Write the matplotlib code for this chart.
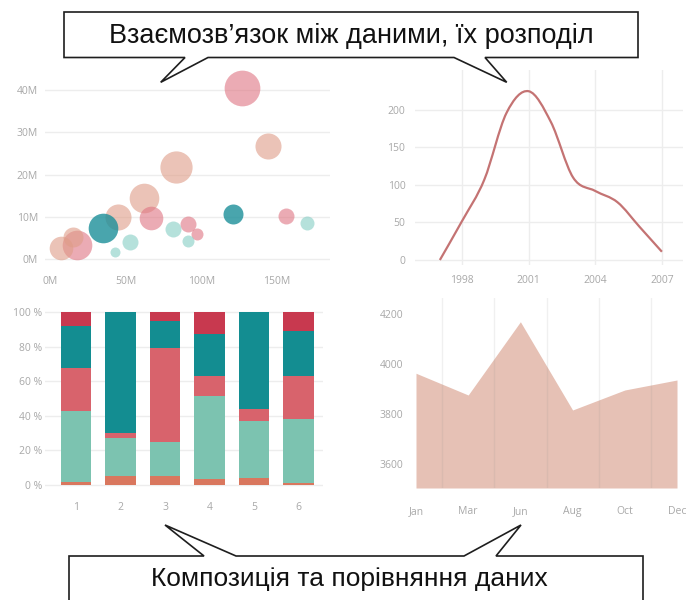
import numpy as np
import matplotlib
matplotlib.use("Agg")
import matplotlib.pyplot as plt
from matplotlib.path import Path
from matplotlib.patches import PathPatch, Polygon

# bubble chart: x, y in millions, bubble size value, colour group
bubble_x = [127, 144, 83, 62, 67, 45, 35, 121, 156, 170, 91, 97, 81, 91, 53, 43, 18, 7, 15]
bubble_y = [40.4, 26.7, 21.7, 14.4, 9.7, 9.9, 7.3, 10.6, 10.2, 8.5, 8.3, 5.9, 7.1, 4.3, 4.0, 1.7, 3.3, 2.6, 5.2]
bubble_size = [32, 17, 26, 22, 14, 17, 22, 10, 6.4, 4.9, 6.4, 3.6, 6.4, 3.6, 6.4, 2.5, 22, 14, 10]
bubble_group = ["pink", "peach", "peach", "peach", "pink", "peach", "teal", "teal", "pink", "mint",
                "pink", "pink", "mint", "mint", "mint", "mint", "pink", "peach", "peach"]

# line chart
years = [1997, 1998, 1999, 2000, 2001, 2002, 2003, 2004, 2005, 2006, 2007]
line_vals = [0, 52, 107, 196, 225, 184, 110, 92, 77, 44, 11]

# 100% stacked bars, bottom to top
bar_labels = ["1", "2", "3", "4", "5", "6"]
seg_orange = [1.5, 5, 5, 3.5, 4, 1]
seg_mint = [41, 22, 20, 48, 33, 37]
seg_pink = [25, 3, 54, 11.5, 7, 25]
seg_teal = [24.5, 70, 16, 24, 56, 26]
seg_red = [8, 0, 5, 13, 0, 11]

# area chart
months = ["Jan", "Mar", "Jun", "Aug", "Oct", "Dec"]
area_vals = [3964, 3877, 4170, 3817, 3897, 3937]

W, H = 688, 600
fig = plt.figure(figsize=(W / 100, H / 100), dpi=100)
fig.patch.set_facecolor("white")

TICK = "#a8a8a8"
GRID = "#ededed"
FONT = "Open Sans"


def px_axes(left, top, right, bottom):
    return fig.add_axes([left / W, 1 - bottom / H, (right - left) / W, (bottom - top) / H])


def clean(ax, xpad, ypad):
    for s in ax.spines.values():
        s.set_visible(False)
    ax.tick_params(length=0, labelsize=7.5, labelcolor=TICK)
    ax.tick_params(axis="x", pad=xpad)
    ax.tick_params(axis="y", pad=ypad)
    for lab in ax.get_xticklabels() + ax.get_yticklabels():
        lab.set_fontfamily(FONT)
    ax.set_facecolor("none")


# --- bubbles
colors = {"pink": "#df7482", "peach": "#df9c87", "teal": "#1b8f99", "mint": "#84cdc4"}
alphas = {"pink": 0.6, "peach": 0.6, "teal": 0.8, "mint": 0.6}
ax1 = px_axes(45, 80, 330, 265)
for v in [0, 10, 20, 30, 40]:
    ax1.axhline(v, color=GRID, lw=1, zorder=0)
for x, y, s, g in zip(bubble_x, bubble_y, bubble_size, bubble_group):
    ax1.scatter(x, y, s=s * 20.7, color=colors[g], alpha=alphas[g], lw=0, clip_on=False, zorder=2)
ax1.set_xlim(-3.3, 185)
ax1.set_ylim(-1.42, 42.4)
ax1.set_xticks([0, 50, 100, 150], ["0M", "50M", "100M", "150M"])
ax1.set_yticks([0, 10, 20, 30, 40], ["0M", "10M", "20M", "30M", "40M"])
clean(ax1, 8, 5)

# --- smooth line
ax2 = px_axes(415, 70, 683, 265)
for v in [0, 50, 100, 150, 200]:
    ax2.axhline(v, color=GRID, lw=1, zorder=0)
for yr in [1998, 2001, 2004, 2007]:
    ax2.axvline(yr, color=GRID, lw=1, zorder=0)
pts = np.column_stack([years, line_vals]).astype(float)
ext = np.vstack([pts[0], pts, pts[-1]])
verts = [pts[0]]
codes = [Path.MOVETO]
for i in range(len(pts) - 1):
    p0, p1, p2, p3 = ext[i], ext[i + 1], ext[i + 2], ext[i + 3]
    verts += [p1 + (p2 - p0) / 6, p2 - (p3 - p1) / 6, p2]
    codes += [Path.CURVE4] * 3
ax2.add_patch(PathPatch(Path(verts, codes), fill=False, edgecolor="#c47373", lw=1.6, zorder=3))
ax2.set_xlim(1995.88, 2007.95)
ax2.set_ylim(-6.67, 253.3)
ax2.set_xticks([1998, 2001, 2004, 2007], ["1998", "2001", "2004", "2007"])
ax2.set_yticks([0, 50, 100, 150, 200], ["0", "50", "100", "150", "200"])
clean(ax2, 7.5, 7)

# --- stacked bars
ax3 = px_axes(45, 305, 323, 490)
for v in [0, 20, 40, 60, 80, 100]:
    ax3.axhline(v, color=GRID, lw=1, zorder=0)
xpos = np.arange(1, len(bar_labels) + 1)
bottom = np.zeros(len(bar_labels))
for seg, c in [(seg_orange, "#d9775e"), (seg_mint, "#7cc3b0"), (seg_pink, "#d8636c"),
               (seg_teal, "#138d91"), (seg_red, "#c8394f")]:
    ax3.bar(xpos, seg, bottom=bottom, width=0.685, color=c, lw=0, zorder=2)
    bottom += np.array(seg)
ax3.set_xlim(0.303, 6.55)
ax3.set_ylim(-2.9, 104)
ax3.set_xticks(xpos, bar_labels)
ax3.set_yticks([0, 20, 40, 60, 80, 100], ["0 %", "20 %", "40 %", "60 %", "80 %", "100 %"])
clean(ax3, 9, 2)

# --- area
ax4 = px_axes(416, 298, 677, 488)
xi = np.arange(len(months))
ax4.fill_between(xi, area_vals, 3505, color="#e6c1b5", lw=0, zorder=1)
for m in xi[:-1] + 0.5:
    ax4.axvline(m, color="#8a8a8a", alpha=0.12, lw=1, zorder=2)
ax4.set_xlim(0, 5)
ax4.set_ylim(3505, 4265)
ax4.set_xticks(xi, months)
ax4.set_yticks([3600, 3800, 4000, 4200], ["3600", "3800", "4000", "4200"])
clean(ax4, 13, 9)

# --- callouts on top
ov = fig.add_axes([0, 0, 1, 1])
ov.set_xlim(0, W)
ov.set_ylim(H, 0)
ov.axis("off")
ov.patch.set_alpha(0)
top_box = [(64, 12), (638, 12), (638, 57.5), (485, 57.5), (506.7, 82.3), (454, 57.5),
           (208, 57.5), (160.7, 82.3), (185, 57.5), (64, 57.5)]
bot_box = [(69, 556), (204, 556), (165, 525), (236, 556), (464, 556), (521, 525),
           (496, 556), (643, 556), (643, 606), (69, 606)]
for poly in (top_box, bot_box):
    ov.add_patch(Polygon(poly, closed=True, facecolor="white", edgecolor="#1e1e1e", lw=1.2))
ov.text(351, 36, "Взаємозв’язок між даними, їх розподіл", ha="center", va="center",
        fontsize=19.5, family="Liberation Sans", color="#111111")
ov.text(349, 579, "Композиція та порівняння даних", ha="center", va="center",
        fontsize=19, family="Liberation Sans", color="#111111")

fig.savefig("out.png", dpi=100)
